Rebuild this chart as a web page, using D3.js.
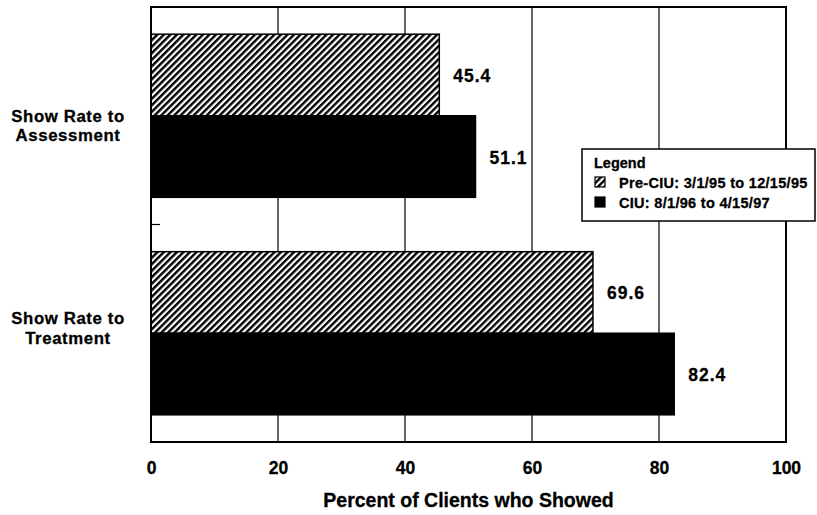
<!DOCTYPE html>
<html>
<head>
<meta charset="utf-8">
<script src="https://cdn.jsdelivr.net/npm/d3@7"></script>
<style>
  html, body { margin: 0; padding: 0; background: #fff; }
  svg { display: block; }
  text { font-family: "Liberation Sans", Arial, Helvetica, sans-serif; font-weight: bold; fill: #000; stroke: #000; stroke-width: 0.3px; }
</style>
</head>
<body>
<svg id="chart" width="817" height="515"></svg>
<script>
// ---- data ----
const categories = ["Show Rate to Assessment", "Show Rate to Treatment"];
const categoryLines = [["Show Rate to", "Assessment"], ["Show Rate to", "Treatment"]];
const seriesNames = ["Pre-CIU: 3/1/95 to 12/15/95", "CIU: 8/1/96 to 4/15/97"];
const preCIU = [45.4, 69.6];
const ciu = [51.1, 82.4];
const xTicks = [0, 20, 40, 60, 80, 100];
const xTitle = "Percent of Clients who Showed";
const legendTitle = "Legend";

// ---- layout ----
const W = 817, H = 515;
const plot = { left: 151, right: 786, top: 7, bottom: 442 };
const catLabelDy = [8, -7];

const svg = d3.select("#chart");

const defs = svg.append("defs");
const pat = defs.append("pattern")
  .attr("id", "hatch")
  .attr("patternUnits", "userSpaceOnUse")
  .attr("width", 4.6).attr("height", 4.6)
  .attr("patternTransform", "rotate(45)");
pat.append("rect").attr("width", 4.6).attr("height", 4.6).attr("fill", "#fff");
pat.append("rect").attr("x", 0).attr("y", 0).attr("width", 2.4).attr("height", 4.6).attr("fill", "#000");

const x = d3.scaleLinear().domain([0, 100]).range([plot.left, plot.right]);
const y = d3.scaleBand().domain(categories).range([plot.top, plot.bottom])
  .paddingInner(0.25).paddingOuter(0.125);
const ySub = d3.scaleBand().domain(seriesNames).range([0, y.bandwidth()]).padding(0);

const fills = ["url(#hatch)", "#000"];

// gridlines
svg.append("g").selectAll("line")
  .data(xTicks.filter(t => t > 0 && t < 100))
  .join("line")
  .attr("x1", d => x(d)).attr("x2", d => x(d))
  .attr("y1", plot.top).attr("y2", plot.bottom)
  .attr("stroke", "#000").attr("stroke-width", 1.2);

// bars
const rows = categories.map((c, i) => ({ cat: c, vals: [preCIU[i], ciu[i]] }));
const groups = svg.append("g").selectAll("g")
  .data(rows).join("g")
  .attr("transform", d => `translate(0,${y(d.cat)})`);

groups.selectAll("rect")
  .data(d => d.vals.map((v, j) => ({ v, s: seriesNames[j], j })))
  .join("rect")
  .attr("x", x(0))
  .attr("y", d => ySub(d.s))
  .attr("width", d => x(d.v) - x(0))
  .attr("height", ySub.bandwidth())
  .attr("fill", d => fills[d.j])
  .attr("stroke", "#000")
  .attr("stroke-width", 1.5);

groups.selectAll("text.val")
  .data(d => d.vals.map((v, j) => ({ v, s: seriesNames[j] })))
  .join("text")
  .attr("class", "val")
  .attr("x", d => x(d.v) + 14)
  .attr("y", d => ySub(d.s) + ySub.bandwidth() / 2 + 7)
  .attr("font-size", 17.5)
  .attr("letter-spacing", 1)
  .text(d => d3.format(".1f")(d.v));

// plot frame
svg.append("rect")
  .attr("x", plot.left).attr("y", plot.top)
  .attr("width", plot.right - plot.left).attr("height", plot.bottom - plot.top)
  .attr("fill", "none").attr("stroke", "#000").attr("stroke-width", 2);

// category boundary tick
const bounds = categories.slice(1).map((c, i) => (y(categories[i]) + y.bandwidth() + y(c)) / 2);
svg.append("g").selectAll("line").data(bounds).join("line")
  .attr("x1", plot.left).attr("x2", plot.left + 9)
  .attr("y1", d => d).attr("y2", d => d)
  .attr("stroke", "#000").attr("stroke-width", 1.2);

// x axis labels
const xAxis = svg.append("g")
  .attr("transform", `translate(0,${plot.bottom})`)
  .call(d3.axisBottom(x).tickValues(xTicks).tickSize(0).tickPadding(0).tickFormat(d3.format("d")));
xAxis.select(".domain").remove();
xAxis.selectAll("text")
  .attr("y", 32).attr("dy", 0)
  .attr("font-size", 17.5)
  .style("font-family", '"Liberation Sans", Arial, sans-serif')
  .style("font-weight", "bold")
  .style("stroke", "#000").style("stroke-width", "0.3px");

svg.append("text")
  .attr("x", (plot.left + plot.right) / 2)
  .attr("y", 507)
  .attr("text-anchor", "middle")
  .attr("font-size", 19.5)
  .text(xTitle);

// category labels (each line a separate text)
categories.forEach((c, i) => {
  const cy = y(c) + y.bandwidth() / 2 + catLabelDy[i];
  categoryLines[i].forEach((ln, k) => {
    svg.append("text")
      .attr("text-anchor", "middle")
      .attr("font-size", 16.8)
      .attr("letter-spacing", 0.6)
      .attr("x", 68)
      .attr("y", cy - 2 + k * 19.5)
      .text(ln);
  });
});

// legend
const lg = svg.append("g").attr("transform", "translate(582,149)");
lg.append("rect").attr("width", 233).attr("height", 72)
  .attr("fill", "#fff").attr("stroke", "#000").attr("stroke-width", 1.5);
lg.append("text").attr("x", 12).attr("y", 19).attr("font-size", 14.5).text(legendTitle);
seriesNames.forEach((s, j) => {
  lg.append("rect")
    .attr("x", 13).attr("y", 28 + j * 20)
    .attr("width", 10).attr("height", 10)
    .attr("fill", fills[j]).attr("stroke", "#000").attr("stroke-width", 1.2);
  lg.append("text").attr("x", 37).attr("y", 38.5 + j * 20)
    .attr("font-size", 14.5).attr("letter-spacing", 0.3).text(s);
});
</script>
</body>
</html>
